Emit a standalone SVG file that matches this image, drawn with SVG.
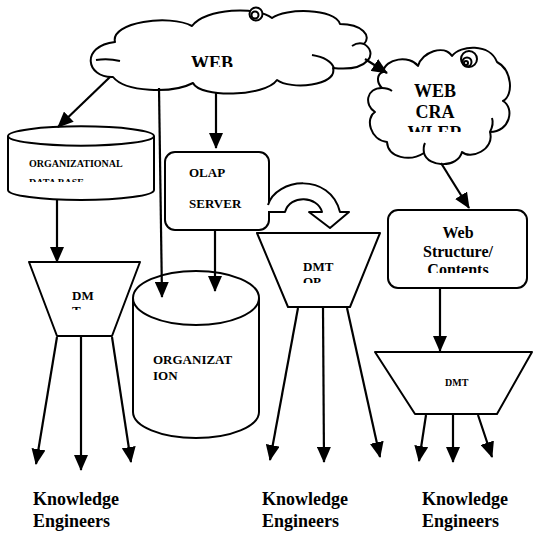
<svg xmlns="http://www.w3.org/2000/svg" width="535" height="540" viewBox="0 0 535 540">
<style>
.s{fill:#fff;stroke:#000;stroke-width:2;stroke-linejoin:round}
.n{fill:none;stroke:#000;stroke-width:2}
.c{fill:none;stroke:#000;stroke-width:2.2;marker-end:url(#ah)}
.t{font-family:"Liberation Serif","Times New Roman",serif;font-weight:bold;fill:#000}
</style>
<defs>
<marker id="ah" markerUnits="userSpaceOnUse" markerWidth="16" markerHeight="14" viewBox="0 0 16 14" refX="15" refY="7" orient="auto">
<path d="M0,0 L16,7 L0,14 z" fill="#000"/>
</marker>
<clipPath id="cWeb"><rect x="0" y="0" width="535" height="67"/></clipPath>
<clipPath id="cCraw"><rect x="0" y="0" width="535" height="132"/></clipPath>
<clipPath id="cDb"><rect x="0" y="0" width="535" height="182"/></clipPath>
<clipPath id="cWs"><rect x="0" y="0" width="535" height="273"/></clipPath>
<clipPath id="cDm1"><rect x="0" y="0" width="535" height="310"/></clipPath>
<clipPath id="cDm2"><rect x="0" y="0" width="535" height="283"/></clipPath>
</defs>

<g id="web">
<path class="s" d="M113 77 C86 78,80 46,115 42 C110 22,170 14,192 26 C205 8,258 6,272 18 C285 8,335 8,340 24 C362 24,372 36,364 44 C378 52,370 72,333 68 C338 86,290 90,277 80 C265 97,200 98,193 83 C172 94,125 92,113 77 Z"/>
<path class="n" d="M96 60 Q108 58 120 61"/>
<path class="n" d="M312 55 Q330 58 334 68"/>
<path class="n" d="M352 46 Q358 42 364 44"/>
<circle class="s" cx="256" cy="14" r="6.5"/>
<circle class="n" cx="255" cy="15" r="3.5" stroke-width="1.5"/>
<text class="t" x="212" y="69" font-size="18" text-anchor="middle" clip-path="url(#cWeb)">WEB</text>
</g>

<g id="crawler">
<path class="s" d="M383 72 C385 58,410 55,418 66 C422 52,444 44,452 56 C460 45,490 43,497 62 C512 70,514 95,503 101 C515 108,510 132,490 132 C495 150,470 160,462 152 C458 168,428 168,424 153 C410 162,388 158,387 142 C370 140,365 118,375 112 C364 105,366 88,382 88 C376 82,377 74,383 72 Z"/>
<path class="n" d="M490 132 Q494 124 492 118"/>
<path class="n" d="M424 153 Q423 147 425 143"/>
<path class="n" d="M382 88 Q388 88 392 91"/>
<circle class="s" cx="469" cy="59" r="8"/>
<circle class="n" cx="467" cy="62" r="4.5" stroke-width="1.5"/>
<circle class="n" cx="466" cy="63" r="2" stroke-width="1.2"/>
<text class="t" font-size="18" text-anchor="middle" clip-path="url(#cCraw)"><tspan x="435" y="97">WEB</tspan><tspan x="435" y="118">CRA</tspan><tspan x="435" y="139">WLER</tspan></text>
</g>

<g id="orgdb">
<path class="s" d="M8 136 L8 190 A73 10 0 0 0 154 190 L154 136"/>
<ellipse class="s" cx="81" cy="136" rx="73" ry="9.7"/>
<text class="t" font-size="10" clip-path="url(#cDb)"><tspan x="29" y="167">ORGANIZATIONAL</tspan><tspan x="29" y="185.5">DATA BASE</tspan></text>
</g>

<g id="olap">
<rect class="s" x="165" y="152" width="104" height="78" rx="10"/>
<text class="t" font-size="13"><tspan x="189" y="177">OLAP</tspan><tspan x="189" y="208">SERVER</tspan></text>
</g>

<g id="webstructure">
<rect class="s" x="388" y="210" width="139" height="78" rx="10"/>
<text class="t" font-size="16" text-anchor="middle" clip-path="url(#cWs)"><tspan x="458" y="238">Web</tspan><tspan x="458" y="257">Structure/</tspan><tspan x="458" y="275">Contents</tspan></text>
</g>

<g id="organization">
<path class="s" d="M133 298 L133 412 A63 26 0 0 0 259 412 L259 298"/>
<ellipse class="s" cx="196" cy="298" rx="63" ry="27"/>
<text class="t" font-size="13"><tspan x="153" y="364">ORGANIZAT</tspan><tspan x="153" y="380">ION</tspan></text>
</g>

<g id="dmt1">
<path class="s" d="M29 262 L140 262 L112 336 L57 336 Z"/>
<text class="t" font-size="13" clip-path="url(#cDm1)"><tspan x="72" y="300">DM</tspan><tspan x="72" y="315">T</tspan></text>
</g>

<g id="dmt2">
<path class="s" d="M257 233 L380 233 L350 307 L288 307 Z"/>
<text class="t" font-size="13" clip-path="url(#cDm2)"><tspan x="303" y="271">DMT</tspan><tspan x="303" y="286">OP</tspan></text>
</g>

<g id="dmt3">
<path class="s" d="M375 352 L532 352 L497 414 L415 414 Z"/>
<text class="t" font-size="10" x="445" y="386">DMT</text>
</g>

<g id="uturn">
<path class="s" d="M268 205 C276 178,330 172,340 212 L349 212 L330 228 L309 212 L322 212 C318 196,290 194,285 212 L268 212"/>
</g>

<g id="connectors">
<line class="c" x1="110" y1="77" x2="58" y2="127"/>
<line class="c" x1="159" y1="88" x2="162" y2="297"/>
<line class="c" x1="216" y1="92" x2="216" y2="148"/>
<line class="c" x1="365" y1="59" x2="387" y2="73"/>
<line class="c" x1="441" y1="163" x2="469" y2="208"/>
<line class="c" x1="215" y1="230" x2="215" y2="291"/>
<line class="c" x1="57" y1="200" x2="57" y2="262"/>
<line class="c" x1="440" y1="288" x2="440" y2="351"/>
<line class="c" x1="57" y1="337" x2="36" y2="464"/>
<line class="c" x1="81" y1="337" x2="81" y2="470"/>
<line class="c" x1="112" y1="337" x2="131" y2="462"/>
<line class="c" x1="298" y1="308" x2="270" y2="460"/>
<line class="c" x1="323" y1="308" x2="324" y2="462"/>
<line class="c" x1="347" y1="308" x2="380" y2="457"/>
<line class="c" x1="426" y1="415" x2="419" y2="461"/>
<line class="c" x1="453" y1="415" x2="453" y2="462"/>
<line class="c" x1="478" y1="415" x2="492" y2="457"/>
</g>

<g id="labels">
<text class="t" font-size="18"><tspan x="33" y="505">Knowledge</tspan><tspan x="33" y="527">Engineers</tspan></text>
<text class="t" font-size="18"><tspan x="262" y="505">Knowledge</tspan><tspan x="262" y="527">Engineers</tspan></text>
<text class="t" font-size="18"><tspan x="422" y="505">Knowledge</tspan><tspan x="422" y="527">Engineers</tspan></text>
</g>
</svg>
